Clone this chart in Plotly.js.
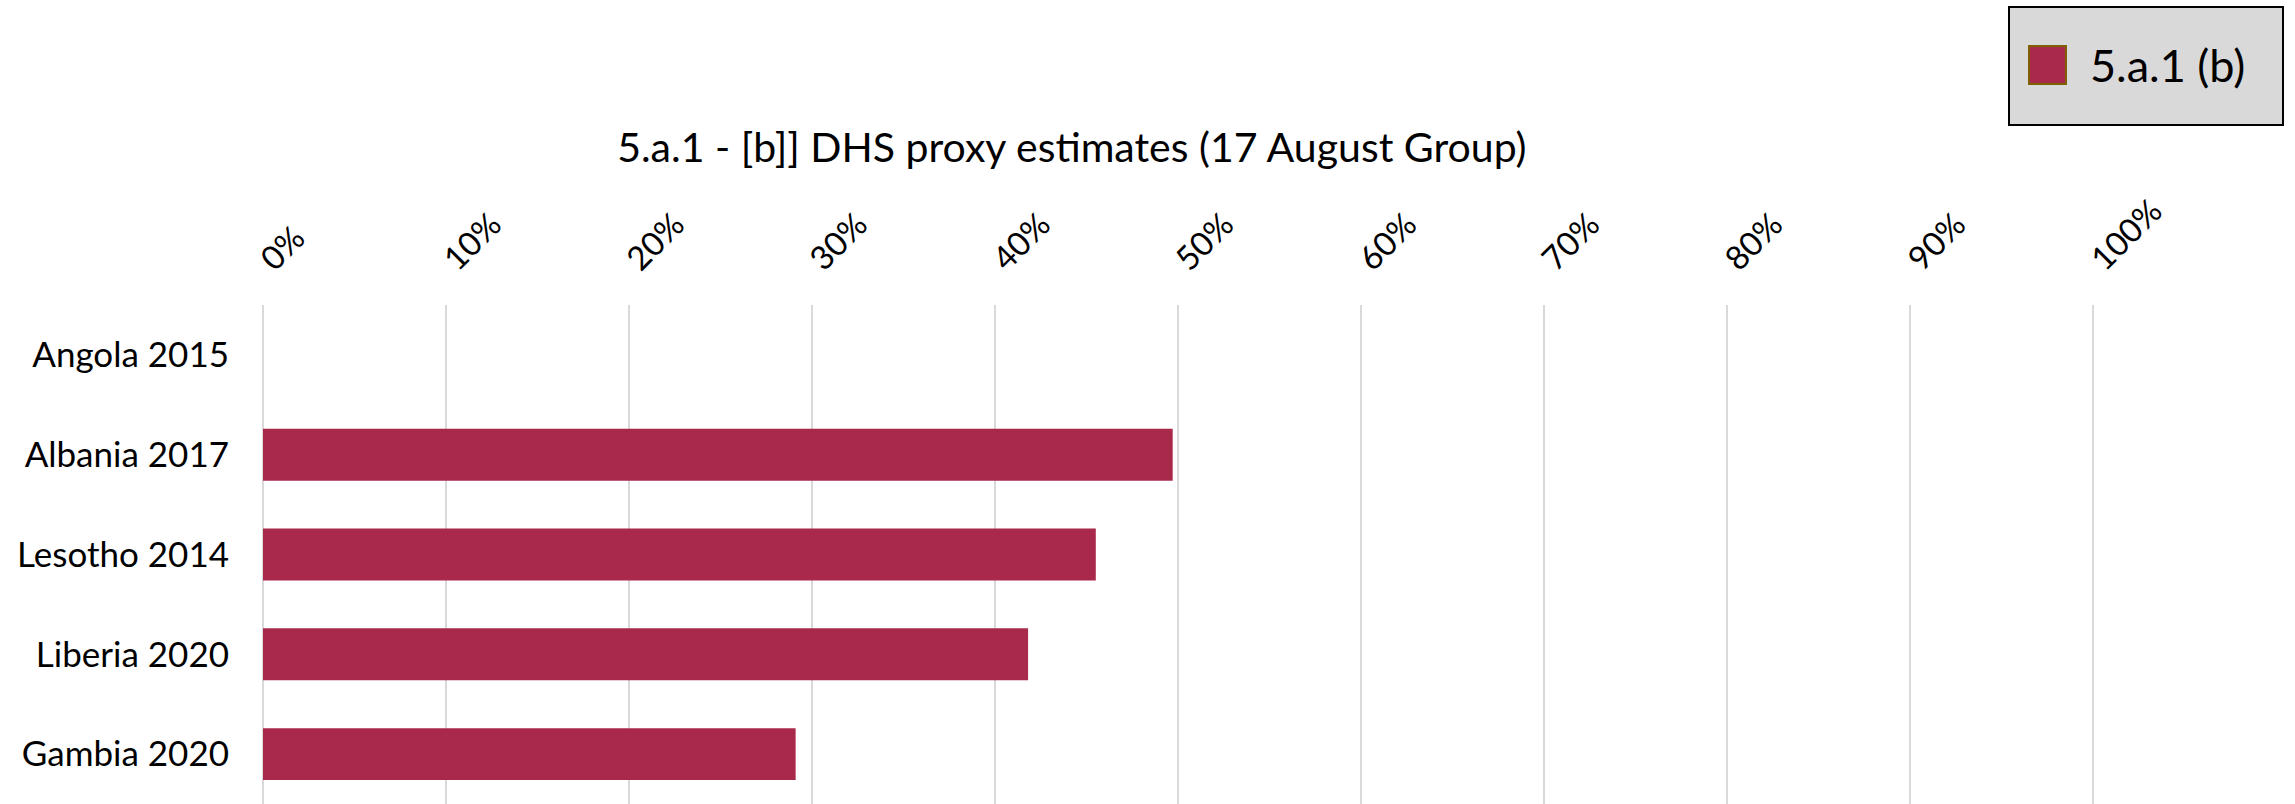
<!DOCTYPE html>
<html>
<head>
<meta charset="utf-8">
<script src="https://cdn.plot.ly/plotly-3.0.1.min.js"></script>
<style>html,body{margin:0;padding:0;background:#fff}#chart{width:2295px;height:804px}</style>
</head>
<body>
<div id="chart"></div>
<script>
const categories = ["Angola 2015", "Albania 2017", "Lesotho 2014", "Liberia 2020", "Gambia 2020"];
const values = [null, 0.497, 0.455, 0.418, 0.291];
const seriesName = "5.a.1 (b)";
const chartTitle = "5.a.1 - [b]] DHS proxy estimates (17 August Group)";

const FONT = "Lato, 'Open Sans', sans-serif";
const BAR_COLOR = "#A9294B";

// plot area geometry (pixels)
const W = 2295, H = 804;
const M = {l: 263, r: 198, t: 305, b: 0};
const PW = W - M.l - M.r, PH = H - M.t - M.b;
const px2x = p => (p - M.l) / PW;
const py2y = p => (H - M.b - p) / PH;

const trace = {
  type: "bar",
  orientation: "h",
  y: categories,
  x: values,
  name: seriesName,
  width: 0.52,
  marker: {color: BAR_COLOR},
  showlegend: false,
  hoverinfo: "x+y"
};

const layout = {
  width: W,
  height: H,
  paper_bgcolor: "#ffffff",
  plot_bgcolor: "#ffffff",
  margin: {l: M.l, r: M.r, t: M.t, b: M.b, pad: 0, autoexpand: false},
  font: {family: FONT, color: "#000000", size: 30},
  title: {
    text: chartTitle,
    font: {family: FONT, size: 41, color: "#000000"},
    x: 0.467, xref: "container", xanchor: "center",
    y: 1 - 148 / H, yref: "container", yanchor: "middle"
  },
  showlegend: false,
  shapes: [
    {type: "rect", xref: "paper", yref: "paper", layer: "above",
     x0: px2x(2009), x1: px2x(2283), y0: py2y(125), y1: py2y(7),
     fillcolor: "#D9D9D9", line: {color: "#000000", width: 2}},
    {type: "rect", xref: "paper", yref: "paper", layer: "above",
     x0: px2x(2029), x1: px2x(2066), y0: py2y(84), y1: py2y(46),
     fillcolor: BAR_COLOR, line: {color: "#7F6000", width: 2}}
  ],
  annotations: [
    {text: seriesName, xref: "paper", yref: "paper",
     x: px2x(2088), y: py2y(65), xanchor: "left", yanchor: "middle",
     showarrow: false, font: {family: FONT, size: 45, color: "#000000"}}
  ],
  xaxis: {
    side: "top",
    range: [0, 1.002],
    tickvals: [0, 0.1, 0.2, 0.3, 0.4, 0.5, 0.6, 0.7, 0.8, 0.9, 1.0],
    tickformat: ".0%",
    tickangle: -45,
    showgrid: true,
    gridcolor: "#D9D9D9",
    gridwidth: 2,
    zeroline: true,
    zerolinecolor: "#D9D9D9",
    zerolinewidth: 2,
    showline: false,
    ticks: "",
    ticklabelstandoff: 20,
    tickfont: {family: FONT, size: 33, color: "#000000"},
    fixedrange: true
  },
  yaxis: {
    autorange: "reversed",
    showgrid: false,
    zeroline: false,
    showline: false,
    ticks: "",
    ticklabelstandoff: 33,
    tickfont: {family: FONT, size: 35, color: "#000000"},
    fixedrange: true
  },
  bargap: 0.48
};

Plotly.newPlot("chart", [trace], layout, {displayModeBar: false, staticPlot: true});
</script>
</body>
</html>
